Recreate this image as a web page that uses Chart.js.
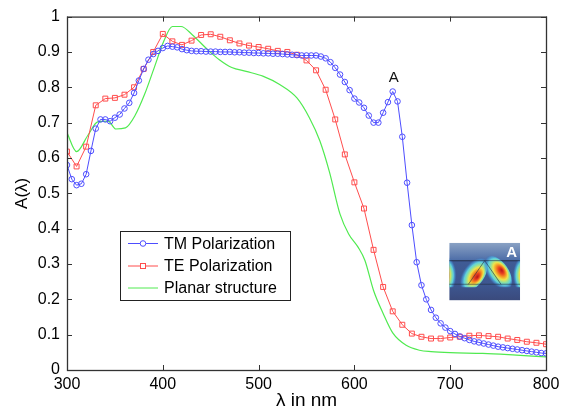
<!DOCTYPE html>
<html>
<head>
<meta charset="utf-8">
<script src="https://cdn.jsdelivr.net/npm/chart.js@4.4.1/dist/chart.umd.min.js"></script>
<style>
  body { margin: 0; background: #fff; }
  #wrap { width: 565px; height: 412px; }
</style>
</head>
<body>
<div id="wrap"><canvas id="chart" width="565" height="412"></canvas></div>
<script>
// TM polarization, sampled every 5 nm
const lambdaTM = [300, 305, 310, 315, 320, 325, 330, 335, 340, 345, 350, 355, 360, 365, 370, 375, 380, 385, 390, 395,
  400, 405, 410, 415, 420, 425, 430, 435, 440, 445, 450, 455, 460, 465, 470, 475, 480, 485, 490, 495,
  500, 505, 510, 515, 520, 525, 530, 535, 540, 545, 550, 555, 560, 565, 570, 575, 580, 585, 590, 595,
  600, 605, 610, 615, 620, 625, 630, 635, 640, 645, 650, 655, 660, 665, 670, 675, 680, 685, 690, 695,
  700, 705, 710, 715, 720, 725, 730, 735, 740, 745, 750, 755, 760, 765, 770, 775, 780, 785, 790, 795, 800];
const absTM = [0.580, 0.540, 0.523, 0.527, 0.554, 0.620, 0.683, 0.709, 0.709, 0.704, 0.714, 0.723, 0.740, 0.756, 0.784, 0.819, 0.852, 0.878, 0.894, 0.903,
  0.911, 0.917, 0.915, 0.913, 0.908, 0.905, 0.903, 0.902, 0.902, 0.901, 0.901, 0.901, 0.900, 0.900, 0.900, 0.899, 0.899, 0.898, 0.898, 0.897,
  0.897, 0.896, 0.896, 0.895, 0.895, 0.894, 0.893, 0.892, 0.891, 0.890, 0.890, 0.890, 0.890, 0.887, 0.882, 0.871, 0.855, 0.836, 0.815, 0.792,
  0.768, 0.757, 0.742, 0.720, 0.700, 0.700, 0.728, 0.758, 0.788, 0.760, 0.660, 0.530, 0.410, 0.305, 0.240, 0.200, 0.170, 0.148, 0.132, 0.120,
  0.110, 0.102, 0.095, 0.090, 0.085, 0.081, 0.078, 0.075, 0.072, 0.069, 0.066, 0.064, 0.062, 0.060, 0.058, 0.056, 0.054, 0.052, 0.050, 0.048, 0.047];

// TE polarization, sampled every 10 nm
const lambdaTE = [300, 310, 320, 330, 340, 350, 360, 370, 380, 390, 400, 410, 420, 430, 440, 450, 460, 470, 480, 490,
  500, 510, 520, 530, 540, 550, 560, 570, 580, 590, 600, 610, 620, 630, 640, 650, 660, 670, 680, 690,
  700, 710, 720, 730, 740, 750, 760, 770, 780, 790, 800];
const absTE = [0.618, 0.576, 0.632, 0.749, 0.768, 0.770, 0.779, 0.800, 0.852, 0.900, 0.951, 0.930, 0.920, 0.932, 0.948, 0.950, 0.943, 0.933, 0.924, 0.918,
  0.914, 0.909, 0.903, 0.900, 0.892, 0.876, 0.848, 0.793, 0.709, 0.610, 0.531, 0.457, 0.340, 0.235, 0.166, 0.128, 0.103, 0.094, 0.089, 0.089,
  0.092, 0.094, 0.097, 0.098, 0.096, 0.094, 0.089, 0.085, 0.080, 0.077, 0.073];

// planar structure (no markers)
const lambdaPlanar = [300, 310, 322, 332, 343, 351, 361, 371, 381, 391, 401, 410, 419, 431, 445, 459, 472, 487, 505, 522,
  540, 553, 564, 574, 585, 594, 604, 611, 620, 630, 640, 654, 668, 680, 700, 734, 769, 800];
const absPlanar = [0.671, 0.618, 0.665, 0.702, 0.704, 0.682, 0.685, 0.720, 0.780, 0.855, 0.930, 0.972, 0.972, 0.948, 0.911, 0.878, 0.856, 0.845, 0.831, 0.808,
  0.770, 0.714, 0.648, 0.560, 0.441, 0.385, 0.347, 0.310, 0.225, 0.160, 0.105, 0.070, 0.056, 0.052, 0.049, 0.047, 0.042, 0.037];

const xTicks = [300, 400, 500, 600, 700, 800];
const xTickLabels = ['300', '400', '500', '600', '700', '800'];
const yTicks = [0, 0.1, 0.2, 0.3, 0.4, 0.5, 0.6, 0.7, 0.8, 0.9, 1];
const yTickLabels = ['0', '0.1', '0.2', '0.3', '0.4', '0.5', '0.6', '0.7', '0.8', '0.9', '1'];

const seriesNames = ['TM Polarization', 'TE Polarization', 'Planar structure'];

// peak marker "A" on the TM curve
const peakLabel = { text: 'A', x: 641, y: 0.828 };
// field-map inset, placed in data units
const insetBox = { x0: 699, x1: 773, y0: 0.197, y1: 0.36 };

const BLUE = '#4d4dff';
const RED = '#ff4d4d';
const GREEN = '#50ea50';
const FONT = "'Liberation Sans', Arial, Helvetica, sans-serif";

Chart.defaults.font.family = FONT;

const pts = (xs, ys) => xs.map((x, i) => ({ x: x, y: ys[i] }));

// box round the axes, with inward ticks on all four sides
const framePlugin = {
  id: 'frame',
  afterDatasetsDraw(chart) {
    const { ctx, chartArea: a, scales } = chart;
    ctx.save();
    ctx.strokeStyle = '#333';
    ctx.lineWidth = 1;
    ctx.beginPath();
    xTicks.forEach(v => {
      const px = Math.round(scales.x.getPixelForValue(v)) + 0.5;
      ctx.moveTo(px, a.bottom); ctx.lineTo(px, a.bottom - 5);
      ctx.moveTo(px, a.top); ctx.lineTo(px, a.top + 5);
    });
    yTicks.forEach(v => {
      const py = Math.round(scales.y.getPixelForValue(v)) + 0.5;
      ctx.moveTo(a.left, py); ctx.lineTo(a.left + 5, py);
      ctx.moveTo(a.right, py); ctx.lineTo(a.right - 5, py);
    });
    ctx.stroke();
    ctx.lineWidth = 1.3;
    ctx.strokeRect(a.left + 0.5, a.top + 0.5, a.right - a.left, a.bottom - a.top);
    ctx.restore();
  }
};

// one lobe of the field map: an ellipse with its hot core shifted to one side
function lobe(ctx, cx, cy, rx, ry, angle, coreShift) {
  ctx.save();
  ctx.translate(cx, cy);
  ctx.rotate(angle);
  ctx.scale(rx, ry);
  const g = ctx.createRadialGradient(0, coreShift, 0, 0, coreShift * 0.4, 1);
  g.addColorStop(0, '#b8141c');
  g.addColorStop(0.18, '#e8421f');
  g.addColorStop(0.34, '#f59a25');
  g.addColorStop(0.48, '#eee34a');
  g.addColorStop(0.62, '#8ee0a0');
  g.addColorStop(0.74, '#5fd0dc');
  g.addColorStop(0.88, 'rgba(70,150,215,0.6)');
  g.addColorStop(1, 'rgba(60,95,160,0)');
  ctx.fillStyle = g;
  ctx.beginPath();
  ctx.arc(0, 0, 1, 0, Math.PI * 2);
  ctx.fill();
  ctx.restore();
}

const extrasPlugin = {
  id: 'extras',
  afterDraw(chart) {
    const { ctx, scales } = chart;
    const X = scales.x, Y = scales.y;
    ctx.save();

    // "A" over the TM peak
    ctx.fillStyle = '#111';
    ctx.font = '15px ' + FONT;
    ctx.textAlign = 'center';
    ctx.textBaseline = 'middle';
    ctx.fillText(peakLabel.text, X.getPixelForValue(peakLabel.x), Y.getPixelForValue(peakLabel.y));

    // inset field map
    const ix = X.getPixelForValue(insetBox.x0), iy = Y.getPixelForValue(insetBox.y1);
    const iw = X.getPixelForValue(insetBox.x1) - ix, ih = Y.getPixelForValue(insetBox.y0) - iy;
    ctx.save();
    ctx.beginPath(); ctx.rect(ix, iy, iw, ih); ctx.clip();
    let g = ctx.createLinearGradient(0, iy, 0, iy + ih);
    g.addColorStop(0, '#8aa2c4');
    g.addColorStop(0.3, '#4e6ea8');
    g.addColorStop(0.31, '#34497a');
    g.addColorStop(0.34, '#3f5b95');
    g.addColorStop(0.75, '#3d5690');
    g.addColorStop(1, '#3a4a7c');
    ctx.fillStyle = g;
    ctx.fillRect(ix, iy, iw, ih);

    const mx = ix + iw / 2;
    const topY = iy + ih * 0.31, botY = iy + ih * 0.72;
    const legDx = iw * 0.23, legDy = botY - topY;
    const legAng = Math.atan2(legDy, legDx);
    ctx.save();
    ctx.beginPath(); ctx.rect(ix, iy, iw, botY - iy + 3); ctx.clip();
    // lobes hugging the outside of each leg of the inverted V
    lobe(ctx, mx - legDx * 0.5 - 4, topY + legDy * 0.55, legDy * 0.85, iw * 0.17, -legAng + Math.PI, -0.5);
    lobe(ctx, mx + legDx * 0.5 + 4, topY + legDy * 0.55, legDy * 0.85, iw * 0.17, legAng, -0.5);
    // half lobes at the cell edges
    lobe(ctx, ix - 2, topY + legDy * 0.62, legDy * 0.8, iw * 0.15, Math.PI / 2, 0.3);
    lobe(ctx, ix + iw + 2, topY + legDy * 0.62, legDy * 0.8, iw * 0.15, Math.PI / 2, -0.3);
    ctx.restore();

    ctx.strokeStyle = 'rgba(35,45,65,0.75)';
    ctx.lineWidth = 0.8;
    ctx.beginPath();
    ctx.moveTo(ix, topY); ctx.lineTo(ix + iw, topY);
    ctx.moveTo(ix, botY); ctx.lineTo(ix + iw, botY);
    ctx.moveTo(mx - legDx, botY); ctx.lineTo(mx, topY); ctx.lineTo(mx + legDx, botY);
    ctx.stroke();
    ctx.fillStyle = '#fff';
    ctx.font = 'bold 15px ' + FONT;
    ctx.fillText('A', ix + iw * 0.88, iy + ih * 0.18);
    ctx.restore();

    // legend box
    const lx = 120, ly = 231, lw = 170, lh = 69;
    ctx.fillStyle = '#fff';
    ctx.fillRect(lx, ly, lw, lh);
    ctx.strokeStyle = '#222';
    ctx.lineWidth = 1;
    ctx.strokeRect(lx + 0.5, ly + 0.5, lw, lh);
    const colors = [BLUE, RED, GREEN];
    const rows = [243.5, 266, 288];
    rows.forEach((ry, i) => {
      ctx.strokeStyle = colors[i];
      ctx.lineWidth = 1;
      ctx.beginPath();
      ctx.moveTo(128, ry); ctx.lineTo(158, ry);
      ctx.stroke();
      if (i === 0) {
        ctx.beginPath(); ctx.arc(143, ry, 2.8, 0, Math.PI * 2); ctx.fillStyle = '#fff'; ctx.fill(); ctx.stroke();
      } else if (i === 1) {
        ctx.fillStyle = '#fff';
        ctx.fillRect(140.5, ry - 2.5, 5, 5);
        ctx.strokeRect(140.5, ry - 2.5, 5, 5);
      }
      ctx.fillStyle = '#000';
      ctx.font = '16px ' + FONT;
      ctx.textAlign = 'left';
      ctx.textBaseline = 'middle';
      ctx.fillText(seriesNames[i], 164, ry + 1);
    });
    ctx.restore();
  }
};

new Chart(document.getElementById('chart'), {
  type: 'line',
  data: {
    datasets: [
      {
        label: seriesNames[0], data: pts(lambdaTM, absTM),
        borderColor: BLUE, borderWidth: 1, tension: 0,
        pointStyle: 'circle', pointRadius: 2.8, pointBorderWidth: 1,
        pointBorderColor: BLUE, pointBackgroundColor: 'rgba(255,255,255,0)'
      },
      {
        label: seriesNames[1], data: pts(lambdaTE, absTE),
        borderColor: RED, borderWidth: 1, tension: 0,
        pointStyle: 'rect', pointRadius: 3.5, pointBorderWidth: 1,
        pointBorderColor: RED, pointBackgroundColor: 'rgba(255,255,255,0)'
      },
      {
        label: seriesNames[2], data: pts(lambdaPlanar, absPlanar),
        borderColor: GREEN, borderWidth: 1.2, cubicInterpolationMode: 'monotone',
        pointRadius: 0
      }
    ]
  },
  options: {
    responsive: false,
    animation: false,
    layout: { padding: { top: 15, right: 19, bottom: 0, left: 0 } },
    plugins: { legend: { display: false }, tooltip: { enabled: false } },
    scales: {
      x: {
        type: 'linear', min: 300, max: 800,
        afterBuildTicks: s => { s.ticks = xTicks.map(v => ({ value: v })); },
        afterFit: s => { s.height = 42; },
        grid: { display: false, drawTicks: false },
        border: { display: false },
        ticks: {
          padding: 5, color: '#000', font: { size: 16 }, maxRotation: 0, autoSkip: false,
          callback: (v, i) => xTickLabels[i]
        },
        title: { display: true, text: 'λ in nm', color: '#000', font: { size: 19 }, padding: { top: 0, bottom: 0 } }
      },
      y: {
        type: 'linear', min: 0, max: 1,
        afterBuildTicks: s => { s.ticks = yTicks.map(v => ({ value: v })); },
        afterFit: s => { s.width = 67; },
        grid: { display: false, drawTicks: false },
        border: { display: false },
        ticks: {
          padding: 7, color: '#000', font: { size: 16 }, autoSkip: false,
          callback: (v, i) => yTickLabels[i]
        },
        title: { display: true, text: 'A(λ)', color: '#000', font: { size: 17 }, padding: { top: 12, bottom: 0 } }
      }
    }
  },
  plugins: [framePlugin, extrasPlugin]
});
</script>
</body>
</html>
